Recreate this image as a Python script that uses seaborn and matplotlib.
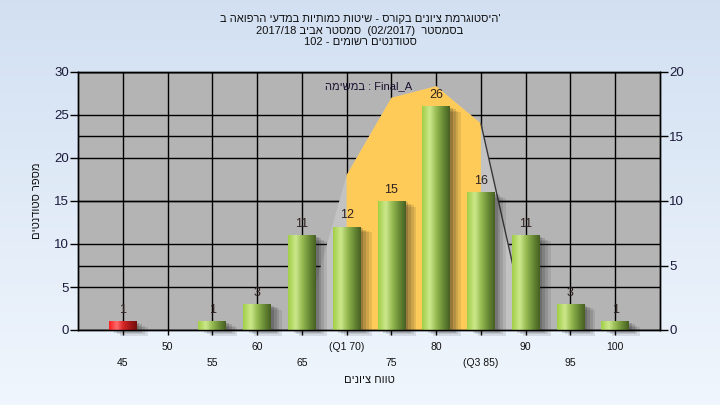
import numpy as np
import pandas as pd
import matplotlib
matplotlib.use('Agg')
import matplotlib.pyplot as plt
import matplotlib.patheffects as pe
import seaborn as sns

# ---------------- data ----------------
grades = [45, 50, 55, 60, 65, 70, 75, 80, 85, 90, 95, 100]
counts = [1, 0, 1, 3, 11, 12, 15, 26, 16, 11, 3, 1]
tick_labels = ['45', '50', '55', '60', '65', '(Q1 70)', '75', '80', '(Q3 85)', '90', '95', '100']
fail_grades = [45]

# distribution area (right-axis units)
iqr_x = [70, 70, 75, 80, 85, 85]
iqr_y = [0, 12, 18, 18.9, 16, 0]
spread_x = [65.1, 70, 75, 80, 85, 90.2]
spread_y = [0, 12, 18, 18.9, 16, 0]

title_lines = ["'היסטוגרמת ציונים בקורס - שיטות כמותיות במדעי הרפואה ב",
               "בסמסטר  (02/2017)  סמסטר אביב 2017/18",
               "סטודנטים רשומים - 102"]
legend_text = "במשימה : Final_A"
x_label = "טווח ציונים"
y_label = "מספר סטודנטים"


def is_heb(w):
    return any('\u0590' <= c <= '\u05ff' for c in w)


def vis(s):
    # words kept left-to-right, Hebrew letters drawn right-to-left
    return ' '.join(w[::-1] if is_heb(w) else w for w in s.split(' '))


def rtl(s):
    # right-to-left line: word order reversed as well
    return ' '.join(reversed([w[::-1] if is_heb(w) else w for w in s.split(' ')]))


sns.set_theme(style='white')
plt.rcParams['font.family'] = ['Liberation Sans', 'DejaVu Sans']

fig = plt.figure(figsize=(7.2, 4.05), dpi=100)

# background gradient
bg = fig.add_axes([0, 0, 1, 1], zorder=-10)
top = np.array([0.824, 0.878, 0.949])
bot = np.array([0.941, 0.965, 0.992])
t = np.linspace(0, 1, 256)[:, None]
bg.imshow((top * (1 - t) + bot * t)[:, None, :].repeat(2, axis=1), aspect='auto',
          extent=[0, 1, 0, 1])
bg.axis('off')

ax = fig.add_axes([78 / 720, 1 - 330 / 405, 582 / 720, 258 / 405])
ax.set_facecolor('#b4b4b4')
ax2 = ax.twinx()

# grid
ax.set_axisbelow(True)
ax.grid(True, which='both', axis='x', color='black', lw=1)
ax.grid(True, which='major', axis='y', color='black', lw=1)
ax.hlines([5, 10, 15, 20], 40, 105, transform=ax2.transData, colors='black', lw=1, zorder=0.6)

# distribution polygons
ax.fill(spread_x, spread_y, transform=ax2.transData, color='#c3c3c3', lw=0, zorder=1)
ax.fill(iqr_x, iqr_y, transform=ax2.transData, color='#fecb58', lw=0, zorder=1.2)
ax.plot(spread_x[-2:], spread_y[-2:], transform=ax2.transData, color='#383838', lw=1, zorder=1.3)

# bars
df = pd.DataFrame({'grade': grades, 'count': counts})
sns.barplot(data=df, x='grade', y='count', native_scale=True, width=0.62,
            color='#8fb848', ax=ax, zorder=3, linewidth=0)

green = [(0.63, 0.81, 0.28), (0.80, 0.91, 0.55), (0.60, 0.74, 0.33), (0.40, 0.53, 0.20), (0.28, 0.38, 0.14)]
red = [(0.97, 0.12, 0.12), (1.00, 0.42, 0.42), (0.85, 0.15, 0.15), (0.62, 0.08, 0.08), (0.45, 0.05, 0.05)]
stops = [0.0, 0.28, 0.5, 0.78, 1.0]

bars = ax.containers[0]
for bar, val, g in zip(bars, counts, grades):
    if val <= 0:
        continue
    cols = np.array(red if g in fail_grades else green)
    xs = np.linspace(0, 1, 64)
    img = np.stack([np.interp(xs, stops, cols[:, k]) for k in range(3)], axis=-1)[None, :, :]
    x0, y0, w, h = bar.get_x(), bar.get_y(), bar.get_width(), bar.get_height()
    bar.set_facecolor(tuple(cols[2]))
    bar.set_clip_on(False)
    bar.set_path_effects([
        pe.SimplePatchShadow(offset=(8, -4), shadow_rgbFace='k', alpha=0.10),
        pe.SimplePatchShadow(offset=(6, -3), shadow_rgbFace='k', alpha=0.12),
        pe.SimplePatchShadow(offset=(4, -2), shadow_rgbFace='k', alpha=0.15),
        pe.SimplePatchShadow(offset=(2, -1), shadow_rgbFace='k', alpha=0.18),
        pe.Normal()])
    im = ax.imshow(img, extent=[x0, x0 + w, y0, y0 + h], aspect='auto', zorder=3.1,
                   interpolation='bilinear')
    im.set_clip_path(bar)
    ax.annotate(str(val), (g, val), xytext=(0, 6), textcoords='offset points',
                ha='center', va='baseline', fontsize=9, color='#2e2020', zorder=5)

# limits
ax.set_xlim(40, 105)
ax.set_ylim(0, 30)
ax2.set_ylim(0, 20)

# ticks
ax.set_xticks(grades[1::2])
ax.set_xticklabels(tick_labels[1::2])
ax.set_xticks(grades[0::2], minor=True)
ax.set_xticklabels(tick_labels[0::2], minor=True)
ax.tick_params(axis='x', which='both', bottom=True, length=3.5, width=1, color='black',
               direction='out', labelsize=7.5, labelcolor='#111111')
ax.tick_params(axis='x', which='major', pad=5)
ax.tick_params(axis='x', which='minor', pad=16.5)

ax.set_yticks(range(0, 31, 5))
ax.tick_params(axis='y', left=True, length=5.5, width=1, color='black', direction='out',
               labelsize=9.5, labelcolor='#1a1a3a', pad=1)
ax2.set_yticks(range(0, 21, 5))
ax2.tick_params(axis='y', right=True, length=5.5, width=1, color='black', direction='out',
                labelsize=9.5, labelcolor='#1a1a3a', pad=1)
ax2.grid(False)

for a in (ax, ax2):
    for s in a.spines.values():
        s.set_color('black')
        s.set_linewidth(1)
        s.set_visible(True)

# labels
ax.set_xlabel(rtl(x_label), fontsize=8, color='#111111')
ax.xaxis.set_label_coords(0.5, (330 - 380) / 258)
ax.xaxis.label.set_va('center')
ax.set_ylabel(rtl(y_label), fontsize=8, color='#111111', rotation=90)
ax.yaxis.set_label_coords((37 - 78) / 582, 0.5)
ax.yaxis.label.set_va('center')
ax2.set_ylabel('')

ax.text(0.5, (330 - 86) / 258, vis(legend_text), transform=ax.transAxes, ha='center',
        va='center', fontsize=8, color='#1a1030', zorder=6)

fig.text(0.5, 1 - 30.5 / 405, '\n'.join(rtl(l) for l in title_lines), ha='center',
         va='center', fontsize=8, linespacing=1.22, color='#111111')

fig.savefig('out.png', dpi=100)
